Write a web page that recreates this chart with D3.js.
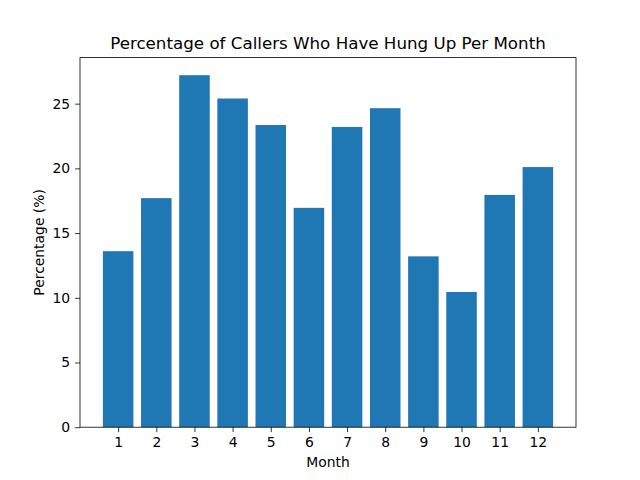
<!DOCTYPE html>
<html><head><meta charset="utf-8">
<script src="https://cdn.jsdelivr.net/npm/d3@7"></script>
<style>body{margin:0;background:#fff}text{font-family:"DejaVu Sans",sans-serif}</style>
</head><body><svg id="c" width="640" height="480"></svg>
<script>
const months = [1,2,3,4,5,6,7,8,9,10,11,12];
const values = [13.6,17.7,27.2,25.4,23.35,16.95,23.2,24.65,13.2,10.45,17.95,20.1];
const yTicks = [0,5,10,15,20,25];

const svg = d3.select("#c");
const L=80,R=576,T=57.6,B=427.2;
const x = d3.scaleLinear().domain([0,13]).range([L,R]);
const y = d3.scaleLinear().domain([0,28.56]).range([B,T]);
const bw = x(0.8)-x(0);

svg.selectAll("rect.bar").data(values).join("rect")
  .attr("x",(d,i)=>x(months[i])-bw/2).attr("width",bw)
  .attr("y",d=>y(d)).attr("height",d=>B-y(d)).attr("fill","#1f77b4");

const xa = svg.append("g").attr("transform",`translate(0,${B})`)
  .call(d3.axisBottom(x).tickValues(months).tickSize(4.9).tickPadding(4.9).tickFormat(d3.format("d")));
const ya = svg.append("g").attr("transform",`translate(${L},0)`)
  .call(d3.axisLeft(y).tickValues(yTicks).tickSize(4.9).tickPadding(4.9));
[xa,ya].forEach(a=>{a.select(".domain").remove();a.selectAll("text").attr("font-size",13.9).attr("fill","#000").attr("font-family","DejaVu Sans");a.selectAll("line").attr("stroke","#000").attr("stroke-width",0.8);});

svg.append("rect").attr("x",L).attr("y",T).attr("width",R-L).attr("height",B-T)
  .attr("fill","none").attr("stroke","#000").attr("stroke-width",0.8);

svg.append("text").attr("x",(L+R)/2).attr("y",49).attr("text-anchor","middle").attr("font-size",16.7).text("Percentage of Callers Who Have Hung Up Per Month");
svg.append("text").attr("x",(L+R)/2).attr("y",467).attr("text-anchor","middle").attr("font-size",13.9).text("Month");
svg.append("text").attr("transform",`translate(44,${(T+B)/2}) rotate(-90)`).attr("text-anchor","middle").attr("font-size",13.9).text("Percentage (%)");
</script></body></html>
